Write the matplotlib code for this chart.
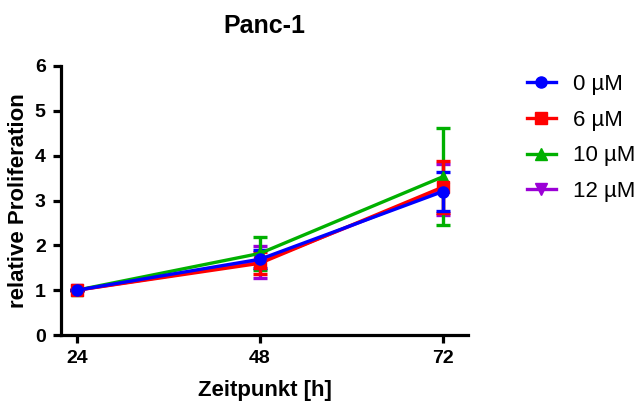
import matplotlib
matplotlib.use("Agg")
import matplotlib.pyplot as plt
from matplotlib.lines import Line2D

plt.rcParams['font.family'] = ['Liberation Sans', 'DejaVu Sans']

timepoints = [24, 48, 72]
labels = ["0 µM", "6 µM", "10 µM", "12 µM"]
means = [
    [1.0, 1.69, 3.20],
    [1.0, 1.60, 3.30],
    [1.0, 1.82, 3.53],
    [1.0, 1.63, 3.25],
]
errors = [
    [0.0, 0.20, 0.43],
    [0.0, 0.25, 0.57],
    [0.0, 0.36, 1.08],
    [0.0, 0.35, 0.57],
]
colors = ["#0000ff", "#ff0000", "#00b000", "#9b00d6"]
markers = ["o", "s", "^", "v"]

fig = plt.figure(figsize=(6.35, 4.08), dpi=100)
ax = fig.add_axes([61/635, 73/408, 407/635, 269/408])

# draw the last series first so 0 µM ends on top
for i in [3, 2, 1, 0]:
    ax.errorbar(timepoints, means[i], yerr=errors[i], color=colors[i],
                marker=markers[i], markersize=8, linewidth=2.4,
                elinewidth=2.4, capsize=5, capthick=2.4)

ax.set_xlim(21.9, 75.3)
ax.set_ylim(0, 6)
ax.set_xticks(timepoints)
ax.set_yticks(range(0, 7))
for s in ["top", "right"]:
    ax.spines[s].set_visible(False)
for s in ["left", "bottom"]:
    ax.spines[s].set_linewidth(2.3)
ax.tick_params(width=2.3, length=6, labelsize=14, pad=5)
for lab in ax.get_xticklabels() + ax.get_yticklabels():
    lab.set_fontweight("bold")

ax.set_xlabel("Zeitpunkt [h]", fontsize=16, fontweight="bold", labelpad=9)
ax.set_ylabel("relative Proliferation", fontsize=16, fontweight="bold", labelpad=4)
ax.set_title("Panc-1", fontsize=18, fontweight="bold", pad=24)

handles = [Line2D([], [], color=colors[i], marker=markers[i], markersize=8,
                  linewidth=2.4) for i in range(4)]
fig.legend(handles, labels, loc="upper left",
           bbox_to_anchor=(527/635, 1 - 74/408), bbox_transform=fig.transFigure,
           frameon=False, fontsize=16, handlelength=1.3, borderpad=0,
           borderaxespad=0, labelspacing=0.66, handletextpad=0.75)

fig.savefig("out.png", dpi=100)
